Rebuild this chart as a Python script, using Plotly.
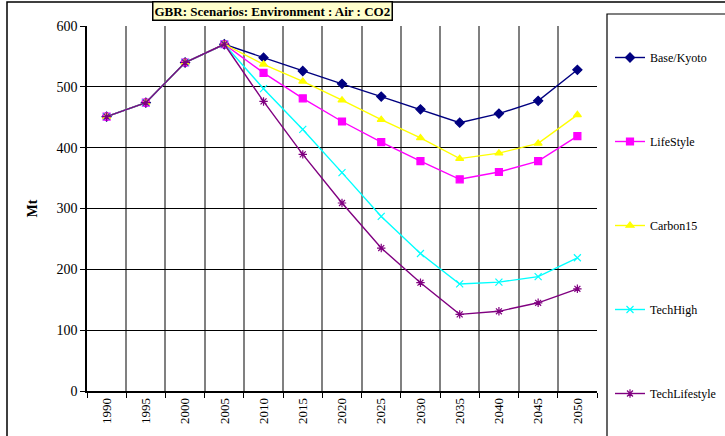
import plotly.graph_objects as go

years = ["1990", "1995", "2000", "2005", "2010", "2015", "2020", "2025", "2030", "2035", "2040", "2045", "2050"]
base_kyoto = [451, 474, 540, 570, 548, 526, 505, 484, 463, 441, 456, 477, 528]
lifestyle = [451, 474, 540, 570, 523, 481, 443, 409, 378, 348, 360, 378, 419]
carbon15 = [451, 474, 540, 570, 537, 509, 478, 446, 416, 382, 391, 407, 454]
techhigh = [451, 474, 540, 570, 497, 430, 359, 287, 226, 176, 179, 188, 219]
techlifestyle = [451, 474, 540, 570, 476, 389, 309, 235, 178, 126, 131, 145, 168]

series = [
    ("Base/Kyoto", base_kyoto, "#000080", "diamond", 7),
    ("LifeStyle", lifestyle, "#FF00FF", "square", 7),
    ("Carbon15", carbon15, "#FFFF00", "triangle-up", 7),
    ("TechHigh", techhigh, "#00FFFF", "x-thin-open", 7),
    ("TechLifestyle", techlifestyle, "#800080", "asterisk-open", 7),
]

SERIF = "Liberation Serif, Times New Roman, serif"

fig = go.Figure()
for i, (name, vals, color, sym, sz) in enumerate(series):
    fig.add_trace(go.Scatter(
        x=years, y=vals, name=name, mode="lines+markers",
        line=dict(color=color, width=1.4),
        marker=dict(symbol=sym, size=sz, color=color, line=dict(color=color, width=1.2)),
        legendgroup=name, legendrank=i,
    ))

L, R, T, B = 87, 597, 26, 391
W, H = 725, 436

def px(x):
    return (x - L) / (R - L)

def py(y):
    return (B - y) / (B - T)

fig.update_layout(
    width=W, height=H,
    margin=dict(l=L, r=W - R, t=T, b=H - B, autoexpand=False),
    paper_bgcolor="white", plot_bgcolor="white",
    font=dict(family=SERIF, color="black", size=13),
    showlegend=True,
    legend=dict(
        xref="container", yref="container",
        x=610 / W, y=1 - 43 / H, xanchor="left", yanchor="top",
        tracegroupgap=65, font=dict(size=12, family=SERIF),
        bgcolor="rgba(0,0,0,0)", borderwidth=0, itemwidth=30,
        maxheight=430,
    ),
    xaxis=dict(
        type="category", tickson="boundaries", showgrid=True,
        gridcolor="#808080", gridwidth=1.5, automargin=False,
        showline=True, linecolor="black", linewidth=1.5,
        ticks="outside", ticklen=5, tickcolor="black",
        tickangle=-90, tickfont=dict(size=13, family=SERIF),
        range=[-0.5, 12.5],
    ),
    yaxis=dict(
        range=[0, 600], dtick=100, showgrid=True, gridcolor="black", gridwidth=1,
        showline=True, linecolor="black", linewidth=1.5, automargin=False,
        ticks="outside", ticklen=5, tickcolor="black",
        tickfont=dict(size=14, family=SERIF), zeroline=False,
        title=dict(text="<b>Mt</b>", font=dict(size=14, family=SERIF), standoff=16),
    ),
    shapes=[
        dict(type="rect", xref="paper", yref="paper",
             x0=px(7), x1=px(740), y0=py(450), y1=py(2),
             line=dict(color="black", width=1.5), fillcolor="rgba(0,0,0,0)", layer="below"),
        dict(type="rect", xref="paper", yref="paper",
             x0=px(607), x1=px(740), y0=py(450), y1=py(14),
             line=dict(color="black", width=1.2), fillcolor="rgba(0,0,0,0)", layer="below"),
    ],
    annotations=[
        dict(text="<b>GBR: Scenarios: Environment : Air : CO2</b>",
             xref="paper", yref="paper", x=px(272), y=py(11),
             xanchor="center", yanchor="middle", showarrow=False,
             font=dict(size=13, family=SERIF),
             bgcolor="#FFFFCC", bordercolor="black", borderwidth=1.5, borderpad=1),
    ],
)

fig.write_html("out.html", config={"displayModeBar": False},
               post_script="document.body.style.margin='0';document.body.style.overflow='hidden';")
